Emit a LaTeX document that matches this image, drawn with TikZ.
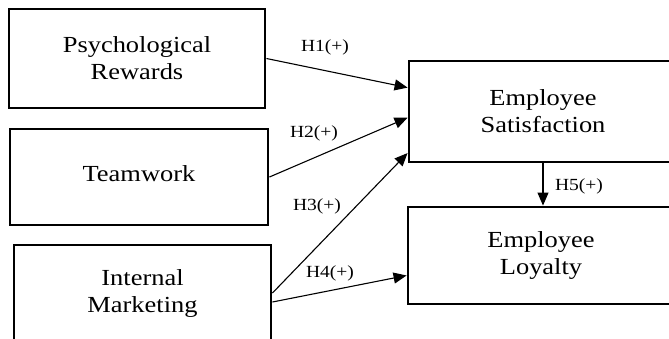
\documentclass[tikz,border=0pt]{standalone}
\usepackage{fontspec}
\setmainfont[FakeStretch=1.15]{Liberation Serif}
\usetikzlibrary{arrows.meta,calc}

\begin{document}
\begin{tikzpicture}[x=1pt, y=-1pt,
    box/.style={draw, line width=2.9pt, align=center, inner sep=0pt, font=\fontsize{23}{27}\selectfont},
    hyp/.style={font=\fontsize{17}{20}\selectfont, inner sep=0pt},
    arr/.style={-{Triangle[length=13pt,width=11pt]}, line width=1.1pt}]
    \useasboundingbox (0,0) rectangle (669,338);
    \clip (0,0) rectangle (669,338);

    % linke Seite: unabhaengige Variablen
    \node[box, minimum width=256pt, minimum height=99pt] (reward) at (137,58.5) {Psychological\\Rewards};
    \node[box, minimum width=258pt, minimum height=96pt] (team) at (139,177) {\raisebox{7pt}{Teamwork}};
    \node[box, minimum width=257pt, minimum height=96pt] (market) at (142.5,293) {Internal\\Marketing};

    % rechte Seite
    \node[box, minimum width=268pt, minimum height=101pt] (satis) at (543,111.5) {Employee\\Satisfaction};
    \node[box, minimum width=266pt, minimum height=97pt] (loyal) at (541,255.5) {Employee\\Loyalty};

    % Endpunkte der Pfeile
    \coordinate (s1) at ($(satis.north west)!0.27!(satis.south west)$);
    \coordinate (s2) at ($(satis.north west)!0.56!(satis.south west)$);
    \coordinate (s3) at ($(satis.north west)!0.90!(satis.south west)$);
    \coordinate (l1) at ($(loyal.north west)!0.70!(loyal.south west)$);
    \coordinate (m1) at ($(market.east)+(0,9)$);

    \draw[arr] (reward.east) -- (s1);
    \draw[arr] (team.east) -- (s2);
    \draw[arr] (market.east) -- (s3);
    \draw[arr] (m1) -- (l1);
    \draw[arr] (satis.south) -- (satis.south |- loyal.north);

    % Hypothesen
    \node[hyp] (h1) at (325,47) {H1(+)};
    \node[hyp] (h2) at (314,133) {H2(+)};
    \node[hyp] (h3) at (317,206) {H3(+)};
    \node[hyp] (h4) at (330,273) {H4(+)};
    \node[hyp] (h5) at (579,186) {H5(+)};
\end{tikzpicture}
\end{document}
